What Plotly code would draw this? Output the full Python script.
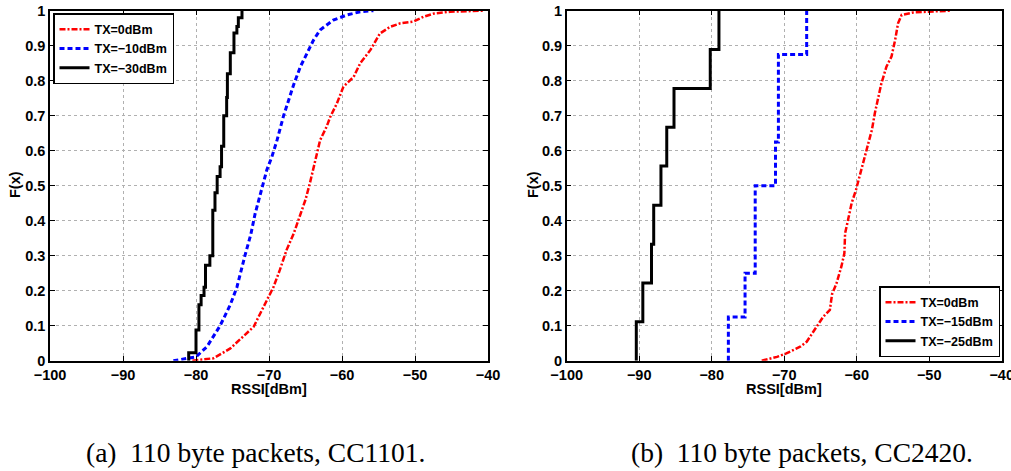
import plotly.graph_objects as go

# ---------------- data ----------------
# (a) CC1101, 110 byte packets
a_tx0_x = [-80.5, -77.6, -75.3, -73.5, -72.1, -71.2, -70.3, -69.4, -68.5, -67.6, -66.6, -65.7, -65.0,
           -64.4, -63.7, -63.0, -62.1, -61.6, -60.7, -59.8, -58.4, -57.5, -56.1, -54.8, -53.4, -52.0,
           -50.2, -48.8, -47.4, -45.2, -40.6]
a_tx0_y = [0.0, 0.007, 0.035, 0.07, 0.097, 0.135, 0.173, 0.21, 0.26, 0.316, 0.364, 0.42, 0.46,
           0.507, 0.573, 0.63, 0.669, 0.697, 0.735, 0.783, 0.811, 0.85, 0.888, 0.935, 0.954, 0.964,
           0.969, 0.983, 0.992, 0.997, 1.0]

a_tx10_x = [-83.1, -80.0, -78.5, -76.7, -75.3, -74.4, -73.3, -72.5, -71.9, -71.0, -70.3, -69.6, -68.9,
            -68.0, -67.1, -66.6, -65.7, -64.8, -63.9, -63.0, -61.2, -59.3, -57.5, -55.7]
a_tx10_y = [0.0, 0.011, 0.04, 0.10, 0.16, 0.21, 0.30, 0.36, 0.42, 0.49, 0.545, 0.583, 0.63,
            0.70, 0.757, 0.79, 0.84, 0.878, 0.916, 0.945, 0.973, 0.988, 0.997, 1.0]

a_tx30_x = [-81.0, -81.0, -80.0, -79.6, -79.3, -78.9, -78.7, -78.1, -77.7, -77.4, -77.1, -76.7, -76.5,
            -76.2, -75.8, -75.7, -75.3, -74.8, -74.4, -74.2, -73.7]
a_tx30_y = [0.0, 0.023, 0.088, 0.16, 0.186, 0.21, 0.273, 0.30, 0.43, 0.48, 0.526, 0.554, 0.613,
            0.70, 0.752, 0.82, 0.88, 0.936, 0.955, 0.98, 1.0]

# (b) CC2420, 110 byte packets
b_tx0_x = [-73.1, -72.4, -71.0, -69.7, -67.8, -66.9, -65.7, -64.6, -63.7, -63.4, -62.8, -62.1, -61.7,
           -61.6, -61.1, -60.7, -60.1, -59.5, -59.1, -58.6, -57.9, -57.5, -57.0, -56.6, -55.9, -55.2,
           -54.7, -54.3, -53.8, -52.2, -49.4, -47.1]
b_tx0_y = [0.0, 0.004, 0.011, 0.021, 0.04, 0.054, 0.092, 0.126, 0.145, 0.19, 0.22, 0.27, 0.307,
           0.364, 0.411, 0.45, 0.488, 0.535, 0.573, 0.61, 0.66, 0.707, 0.754, 0.792, 0.84, 0.869,
           0.916, 0.964, 0.988, 0.995, 0.998, 1.0]

b_tx15_x = [-77.7, -77.7, -75.4, -74.0, -71.2, -70.8, -66.9]
b_tx15_y = [0.0, 0.125, 0.25, 0.5, 0.625, 0.875, 1.0]

b_tx25_x = [-90.4, -90.4, -89.5, -88.3, -88.0, -87.0, -86.2, -85.2, -80.2, -79.0]
b_tx25_y = [0.0, 0.111, 0.222, 0.333, 0.444, 0.556, 0.667, 0.778, 0.889, 1.0]

x_ticks = [-100, -90, -80, -70, -60, -50, -40]
y_ticks = [0, 0.1, 0.2, 0.3, 0.4, 0.5, 0.6, 0.7, 0.8, 0.9, 1]

W, H = 1011, 471
RED_DASH = "6px,2px,2px,2px"
BLUE_DASH = "5px,3px"

fig = go.Figure()
fig.add_trace(go.Scatter(x=a_tx0_x, y=a_tx0_y, mode="lines", name="TX=0dBm",
                         line=dict(color="red", width=2.5, dash=RED_DASH), xaxis="x", yaxis="y", legend="legend"))
fig.add_trace(go.Scatter(x=a_tx10_x, y=a_tx10_y, mode="lines", name="TX=\u221210dBm",
                         line=dict(color="blue", width=3, dash=BLUE_DASH), xaxis="x", yaxis="y", legend="legend"))
fig.add_trace(go.Scatter(x=a_tx30_x, y=a_tx30_y, mode="lines", name="TX=\u221230dBm",
                         line=dict(color="black", width=3, shape="hv"), xaxis="x", yaxis="y", legend="legend"))

fig.add_trace(go.Scatter(x=b_tx0_x, y=b_tx0_y, mode="lines", name="TX=0dBm",
                         line=dict(color="red", width=2.5, dash=RED_DASH), xaxis="x2", yaxis="y2", legend="legend2"))
fig.add_trace(go.Scatter(x=b_tx15_x, y=b_tx15_y, mode="lines", name="TX=\u221215dBm",
                         line=dict(color="blue", width=3, dash=BLUE_DASH, shape="hv"), xaxis="x2", yaxis="y2", legend="legend2"))
fig.add_trace(go.Scatter(x=b_tx25_x, y=b_tx25_y, mode="lines", name="TX=\u221225dBm",
                         line=dict(color="black", width=3, shape="hv"), xaxis="x2", yaxis="y2", legend="legend2"))

tickfont = dict(family="Liberation Sans, Arial", size=14.5, color="black", weight="bold")
ax_common = dict(showline=True, linecolor="black", linewidth=1.5, mirror="ticks",
                 ticks="inside", ticklen=5, tickcolor="black", tickwidth=1,
                 showgrid=True, gridcolor="#b0b0b0", gridwidth=1, griddash="dot",
                 zeroline=False, tickfont=tickfont, ticklabeloverflow="allow")

ytop = 1 - 10.7 / H
ybot = 1 - 360.7 / H
leg_font = dict(family="Liberation Sans, Arial", size=12.5, color="black", weight="bold")
fig.update_layout(
    width=W, height=H, margin=dict(l=0, r=0, t=0, b=0, autoexpand=False),
    paper_bgcolor="white", plot_bgcolor="white",
    xaxis=dict(domain=[50 / W, 488 / W], range=[-100, -40], tickvals=x_ticks, anchor="y", **ax_common),
    yaxis=dict(domain=[ybot, ytop], range=[0, 1], tickvals=y_ticks, anchor="x", **ax_common),
    xaxis2=dict(domain=[566.7 / W, 1001.7 / W], range=[-100, -40], tickvals=x_ticks, anchor="y2", **ax_common),
    yaxis2=dict(domain=[ybot, ytop], range=[0, 1], tickvals=y_ticks, anchor="x2", **ax_common),
    legend=dict(x=53 / W, y=1 - 13 / H, xanchor="left", yanchor="top",
                bgcolor="white", bordercolor="black", borderwidth=1.5,
                font=leg_font, tracegroupgap=0, itemwidth=30),
    legend2=dict(x=1000 / W, y=1 - 357 / H, xanchor="right", yanchor="bottom",
                 bgcolor="white", bordercolor="black", borderwidth=1.5,
                 font=leg_font, tracegroupgap=0, itemwidth=30),
    showlegend=True,
)

lab_font = dict(family="Liberation Sans, Arial", size=14.5, color="black", weight="bold")
cap_font = dict(family="Liberation Serif, DejaVu Serif, serif", size=27.5, color="black")
annots = [
    dict(text="RSSI[dBm]", x=269 / W, y=1 - 389 / H, font=lab_font),
    dict(text="RSSI[dBm]", x=784 / W, y=1 - 389 / H, font=lab_font),
    dict(text="F(x)", x=15 / W, y=1 - 185 / H, font=lab_font, textangle=-90),
    dict(text="F(x)", x=533 / W, y=1 - 185 / H, font=lab_font, textangle=-90),
    dict(text="(a)\u00a0\u00a0110 byte packets, CC1101.", x=255 / W, y=1 - 452 / H, font=cap_font),
    dict(text="(b)\u00a0\u00a0110 byte packets, CC2420.", x=802 / W, y=1 - 452 / H, font=cap_font),
]
for a in annots:
    fig.add_annotation(xref="paper", yref="paper", xanchor="center", yanchor="middle",
                       showarrow=False, **a)

fig.write_html("out.html")
